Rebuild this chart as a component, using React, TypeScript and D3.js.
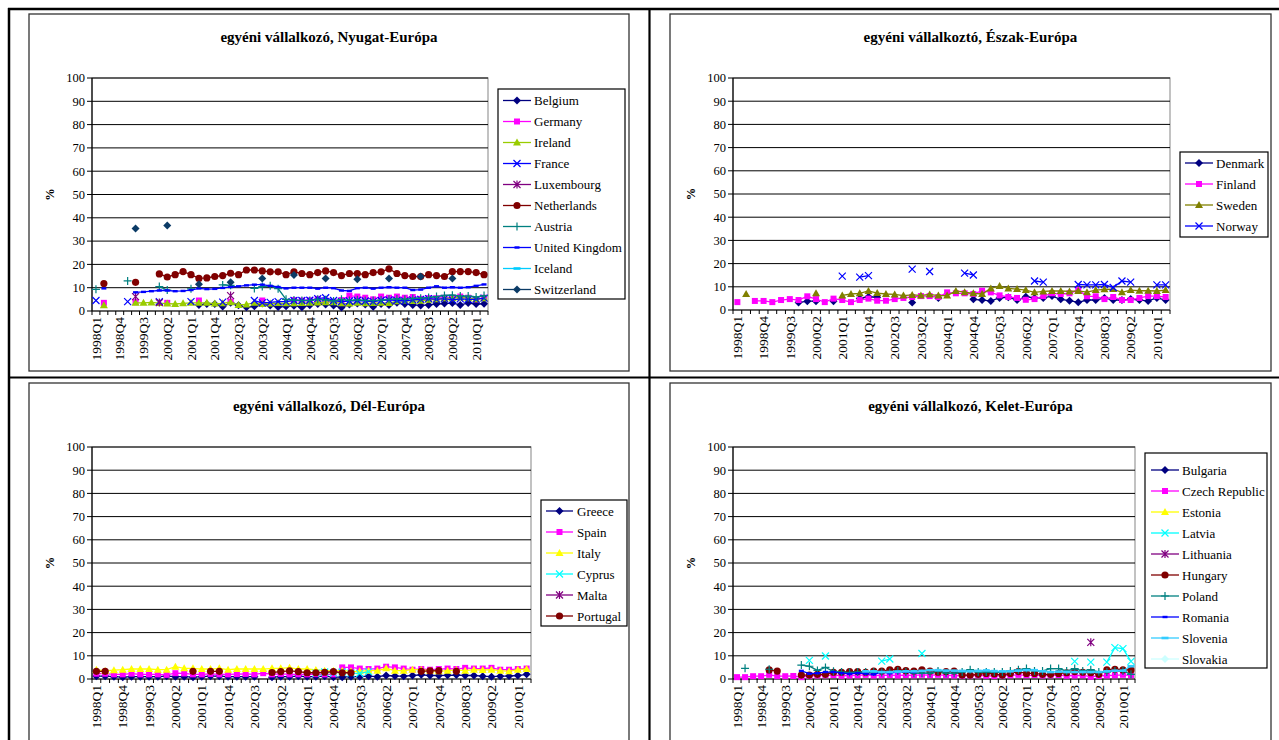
import React from "react";
import * as d3 from "d3";

const _ = null;

const quarters = [
  "1998Q1","1998Q2","1998Q3","1998Q4","1999Q1","1999Q2","1999Q3","1999Q4",
  "2000Q1","2000Q2","2000Q3","2000Q4","2001Q1","2001Q2","2001Q3","2001Q4",
  "2002Q1","2002Q2","2002Q3","2002Q4","2003Q1","2003Q2","2003Q3","2003Q4",
  "2004Q1","2004Q2","2004Q3","2004Q4","2005Q1","2005Q2","2005Q3","2005Q4",
  "2006Q1","2006Q2","2006Q3","2006Q4","2007Q1","2007Q2","2007Q3","2007Q4",
  "2008Q1","2008Q2","2008Q3","2008Q4","2009Q1","2009Q2","2009Q3","2009Q4",
  "2010Q1","2010Q2"
];
const yTicks = [0, 10, 20, 30, 40, 50, 60, 70, 80, 90, 100];
const labelEvery = 3;

// ---------- Nyugat-Európa ----------
const belgium = [_,_,_,_,_,_,_,_,_,_, _,_,_,2.6,3.0,3.0,1.9,3.5,2.5,1.6, 2.0,3.2,2.4,1.7,2.0,2.3,1.6,2.5,3.0,2.8, 2.4,1.5,2.8,3.2,2.8,1.8,3.0,2.6,3.5,3.0, 2.6,2.4,2.6,3.0,3.2,3.4,2.6,3.4,3.0,3.1];
const germany = [_,3.5,_,_,_,3.8,_,_,_,3.5, _,_,_,4.5,_,_,_,4.0,_,_, _,4.5,_,_,_,4.7,4.5,4.6,5.2,4.5, 4.0,4.7,6.6,6.2,5.7,5.0,6.2,5.7,6.2,5.7, 6.0,5.2,5.5,5.5,5.7,5.7,6.2,5.7,5.0,5.7];
const ireland = [_,2.5,_,_,_,3.5,3.5,3.7,3.4,3.2, 3.0,3.3,3.5,3.5,3.5,3.2,3.3,3.8,2.6,2.8, 3.5,3.0,3.2,3.4,3.3,3.3,3.4,3.5,3.6,3.8, 3.8,3.3,3.2,3.5,3.3,3.4,3.5,3.4,4.2,4.5, 4.3,4.4,4.8,5.0,5.5,5.5,5.8,5.5,5.0,5.5];
const france = [4.5,_,_,_,4.0,_,_,_,4.0,_, _,_,4.0,_,_,_,3.8,_,_,_, 4.5,3.5,3.7,4.0,4.0,4.5,4.5,4.6,5.3,5.7, 4.5,4.0,4.3,4.5,4.3,4.0,4.5,4.8,4.5,4.3, 4.8,5.0,5.3,5.0,5.3,4.8,5.2,5.0,5.0,5.5];
const luxembourg = [_,_,_,_,_,6.2,_,_,3.6,_, _,_,_,_,_,_,_,6.6,_,_, _,_,_,_,_,_,_,_,_,_, _,_,_,_,_,_,_,_,_,_, _,_,_,_,_,_,_,_,_,_];
const netherlands = [_,11.8,_,_,_,12.3,_,_,15.9,14.6, 15.6,16.9,15.6,14.0,14.2,14.8,15.2,16.2,15.6,17.6, 17.6,17.2,16.8,16.8,15.6,16.8,16.1,15.6,16.5,17.2, 16.5,15.2,16.1,16.1,15.6,16.5,16.8,18.1,16.1,15.2, 14.8,14.8,15.6,15.2,14.8,16.9,16.9,16.9,16.5,15.6];
const austria = [9.3,_,_,_,12.9,_,_,_,10.5,9.0, _,_,9.5,_,_,_,11.2,11.0,_,_, 9.7,10.5,10.8,9.6,5.0,4.7,4.5,4.5,5.0,4.8, 4.3,5.0,4.5,4.8,4.5,4.5,4.7,5.0,5.2,5.0, 5.4,5.5,5.8,6.2,6.7,6.8,6.4,6.4,6.0,6.6];
const unitedKingdom = [_,9.7,_,_,_,8.0,8.2,8.5,8.8,8.8, 8.5,8.6,9.0,9.7,9.4,9.5,9.9,10.3,10.6,11.0, 11.3,11.3,10.8,10.3,9.7,10.0,10.0,10.0,9.6,10.0, 9.8,8.8,8.6,9.8,10.0,9.6,10.0,10.2,10.0,10.0, 9.0,9.2,10.0,10.6,10.0,10.2,10.0,10.2,10.8,11.4];
const iceland = [_,_,_,_,_,_,_,_,_,_, _,_,_,_,_,_,_,_,_,_, _,_,_,_,_,_,_,_,_,_, _,_,_,_,_,_,_,_,_,_, _,_,_,_,_,_,_,_,_,_];
const switzerland = [_,_,_,_,_,35.4,_,_,_,36.7, _,_,_,11.5,_,_,_,12.3,_,_, _,14.0,_,_,_,15.5,_,_,_,14.0, _,_,_,13.6,_,_,_,14.0,_,_, _,14.8,_,_,_,14.0,_,_,_,_];

// ---------- Észak-Európa ----------
const denmark = [_,_,_,_,_,_,_,3.2,3.8,3.8, _,3.8,_,_,5.0,5.7,5.5,_,_,_, 3.2,_,_,5.2,_,_,_,4.6,4.3,3.9, 5.2,5.5,4.3,5.7,5.2,5.2,6.0,4.6,4.0,3.3, 4.3,4.3,5.2,4.3,4.3,4.7,4.3,3.9,5.2,4.3];
const finland = [3.4,_,3.9,3.9,3.4,4.3,4.7,4.3,5.9,4.7, 3.4,4.9,4.3,3.4,4.3,4.9,4.0,4.0,4.7,5.2, 5.6,6.0,6.0,5.6,7.6,7.2,7.2,6.9,8.3,7.6, 6.3,5.6,5.2,4.4,4.7,6.0,7.2,6.9,7.2,8.6, 5.9,5.9,4.7,5.6,4.3,4.3,5.2,6.0,6.0,5.6];
const sweden = [_,6.9,_,_,_,_,_,_,_,7.2, _,_,6.3,6.9,7.2,8.2,7.3,6.9,6.7,6.2, 6.5,6.3,6.7,6.2,6.2,8.2,7.7,7.2,6.9,9.3, 10.3,9.3,9.0,8.6,7.6,8.0,8.2,8.2,8.0,8.2, 7.7,8.6,8.9,9.0,7.6,8.6,8.3,8.3,8.2,8.6];
const norway = [_,_,_,_,_,_,_,_,_,_, _,_,14.6,_,14.2,14.8,_,_,_,_, 17.6,_,16.6,_,_,_,15.9,15.1,_,_, _,_,_,_,12.5,12.0,_,_,_,11.0, 10.8,10.8,11.0,9.7,12.5,12.0,_,_,10.8,10.8];

// ---------- Dél-Európa ----------
const greece = [1.2,1.2,1.0,0.8,1.0,1.0,1.0,1.0,1.2,1.0, 1.0,0.8,1.0,1.2,1.2,1.0,1.0,1.0,1.0,_, 0.8,1.0,1.0,1.2,1.0,1.0,1.2,0.8,0.8,1.0, 1.0,1.2,1.0,1.5,1.3,1.2,1.5,1.8,1.5,1.5, 1.6,1.7,1.5,1.5,1.2,1.0,1.2,1.3,1.5,2.0];
const spain = [2.3,2.3,2.0,2.0,2.3,2.0,2.0,2.0,1.8,2.5, 2.4,2.0,2.0,2.2,2.0,2.0,2.1,2.2,2.0,2.5, 2.0,2.2,2.0,2.0,2.0,2.1,2.0,2.0,5.0,5.0, 4.5,4.3,4.5,5.3,5.0,4.5,4.0,4.3,4.0,4.3, 4.5,4.3,4.8,4.5,4.5,4.8,4.0,4.0,4.3,4.5];
const italy = [4.0,3.5,3.8,4.0,4.3,4.3,4.3,4.0,4.0,5.3, 4.6,4.6,4.3,4.3,4.6,4.0,4.3,4.3,4.3,4.3, 4.6,4.6,4.9,4.3,4.3,3.9,3.6,3.6,3.6,3.3, 3.3,3.6,3.6,4.6,3.6,3.6,4.0,4.0,3.6,3.3, 3.6,3.9,3.6,4.0,3.9,4.0,3.6,3.3,4.0,4.3];
const cyprus = [_,_,_,_,_,_,_,_,_,_, _,_,_,_,_,_,_,_,_,_, _,_,_,_,_,2.5,3.0,2.5,3.0,2.5, 2.4,3.2,_,_,_,_,_,_,_,_, _,_,_,_,_,_,_,_,_,_];
const malta = [_,_,_,_,_,_,_,_,_,_, _,_,_,_,_,_,_,_,_,_, _,_,_,_,_,_,_,_,_,_, _,_,_,_,_,_,_,_,_,_, _,_,_,_,_,_,_,_,_,_];
const portugal = [3.3,3.3,_,_,_,_,_,_,_,_, _,3.3,_,3.3,3.3,_,_,_,_,_, 2.8,3.2,3.5,3.2,2.7,2.7,2.9,3.2,2.7,2.7, _,_,_,_,_,_,_,3.3,3.5,3.6, _,3.3,_,_,_,_,_,_,_,_];

// ---------- Kelet-Európa ----------
const bulgaria = [_,_,_,_,_,_,_,_,_,_, _,_,_,_,_,_,_,_,_,_, _,_,_,_,_,_,_,_,_,_, _,_,_,_,_,_,_,_,_,_, _,_,_,_,_,_,_,_,_,_];
const czechRepublic = [0.8,0.8,1.2,1.2,1.8,1.2,1.2,1.3,0.8,1.4, 1.5,1.6,1.7,1.4,1.5,1.6,1.8,1.5,1.6,1.7, 1.5,1.7,1.6,1.8,1.7,1.8,1.6,1.5,1.4,1.5, 1.6,1.4,1.3,1.5,1.6,1.8,1.6,1.7,1.5,1.6, 1.7,1.4,1.5,1.6,1.0,1.3,1.5,1.6,1.8,1.6];
const estonia = [_,_,_,_,_,_,_,_,_,_, _,_,_,_,_,_,_,_,_,_, _,_,_,_,_,_,_,_,_,_, _,_,_,_,_,_,_,_,_,_, _,_,_,_,_,_,_,_,_,_];
const latvia = [_,_,_,_,_,_,_,_,_,8.0, _,9.9,_,_,_,_,_,_,7.7,8.6, _,_,_,11.0,_,_,_,_,_,_, _,_,_,_,_,_,_,_,_,_, _,_,7.6,_,7.3,_,7.3,13.5,13.1,7.6];
const lithuania = [_,_,_,_,_,_,_,_,_,_, _,_,_,_,_,_,_,_,_,_, _,_,_,_,_,_,_,_,_,_, _,_,_,_,_,_,_,_,_,_, _,_,_,_,15.8,_,_,_,_,_];
const hungary = [_,_,_,_,3.9,3.4,_,_,1.7,1.7, 2.0,2.0,2.9,2.9,3.2,3.2,2.9,3.4,3.4,3.9, 4.2,3.6,3.4,3.9,3.4,2.9,3.2,3.4,1.7,1.7, 2.0,2.4,2.2,1.7,2.4,3.2,2.4,2.4,2.0,2.0, 2.4,2.7,3.2,2.9,2.7,2.0,3.9,4.2,3.9,3.9];
const poland = [_,4.6,_,_,4.2,_,_,_,6.0,5.5, 3.7,5.0,3.3,3.0,2.8,3.0,3.0,3.0,2.8,2.8, 3.5,3.0,2.5,2.5,2.5,3.5,2.5,2.5,3.0,4.0, 3.0,3.0,3.0,3.0,3.5,4.0,4.5,3.5,3.5,4.5, 4.5,3.5,4.5,3.5,4.0,3.0,3.0,3.5,3.5,2.0];
const romania = [_,_,_,_,_,_,_,_,3.5,2.3, 2.5,3.0,3.0,2.5,2.2,2.5,2.3,2.0,3.0,2.5, 3.0,3.2,3.0,_,_,_,_,_,_,_, _,_,_,_,_,_,_,_,_,_, _,_,_,_,_,_,_,_,_,_];
const slovenia = [_,_,_,_,_,_,_,_,_,_, _,_,_,_,_,_,3.3,3.3,3.0,3.0, 3.2,3.3,3.3,3.5,3.8,3.8,3.6,3.6,3.5,3.3, 3.5,3.7,3.4,3.3,3.3,3.6,3.8,3.8,3.3,3.0, 3.2,3.0,3.0,3.0,3.0,3.0,3.3,3.6,3.6,5.5];
const slovakia = [_,_,_,_,_,_,_,_,_,_, _,_,_,_,_,_,_,_,_,_, _,_,_,_,_,_,_,_,_,_, _,_,_,_,_,_,_,_,_,_, _,_,_,_,_,_,_,_,_,_];

type MarkerType = "diamond" | "square" | "triangle" | "x" | "asterisk" | "circle" | "plus" | "dash" | "dash2";
interface Series { name: string; color: string; marker: MarkerType; values: (number | null)[]; }
interface Box { x: number; y: number; w: number; h: number; }
interface PanelDef {
  title: string;
  frame: Box;
  plot: Box;
  legend: Box & { first: number; step: number; l1: number; l2: number; tx: number };
  series: Series[];
}

const panels: PanelDef[] = [
  {
    title: "egyéni vállalkozó, Nyugat-Európa",
    frame: { x: 29, y: 14, w: 600, h: 357 },
    plot: { x: 92, y: 78, w: 396, h: 233 },
    legend: { x: 498, y: 89, w: 127, h: 210, first: 100.5, step: 21, l1: 503, l2: 531, tx: 534 },
    series: [
      { name: "Belgium", color: "#000080", marker: "diamond", values: belgium },
      { name: "Germany", color: "#FF00FF", marker: "square", values: germany },
      { name: "Ireland", color: "#99CC00", marker: "triangle", values: ireland },
      { name: "France", color: "#0000FF", marker: "x", values: france },
      { name: "Luxembourg", color: "#800080", marker: "asterisk", values: luxembourg },
      { name: "Netherlands", color: "#800000", marker: "circle", values: netherlands },
      { name: "Austria", color: "#008080", marker: "plus", values: austria },
      { name: "United Kingdom", color: "#0000FF", marker: "dash", values: unitedKingdom },
      { name: "Iceland", color: "#00CCFF", marker: "dash2", values: iceland },
      { name: "Switzerland", color: "#0B3B66", marker: "diamond", values: switzerland },
    ],
  },
  {
    title: "egyéni vállalkoztó, Észak-Európa",
    frame: { x: 670, y: 14, w: 601, h: 357 },
    plot: { x: 733, y: 78, w: 437, h: 232 },
    legend: { x: 1180, y: 152, w: 88, h: 85, first: 163, step: 21, l1: 1185, l2: 1213, tx: 1216 },
    series: [
      { name: "Denmark", color: "#000080", marker: "diamond", values: denmark },
      { name: "Finland", color: "#FF00FF", marker: "square", values: finland },
      { name: "Sweden", color: "#808000", marker: "triangle", values: sweden },
      { name: "Norway", color: "#0000FF", marker: "x", values: norway },
    ],
  },
  {
    title: "egyéni vállalkozó, Dél-Európa",
    frame: { x: 29, y: 383, w: 600, h: 400 },
    plot: { x: 92, y: 447, w: 439, h: 232 },
    legend: { x: 541, y: 500, w: 86, h: 126, first: 511, step: 21, l1: 546, l2: 573, tx: 577 },
    series: [
      { name: "Greece", color: "#000080", marker: "diamond", values: greece },
      { name: "Spain", color: "#FF00FF", marker: "square", values: spain },
      { name: "Italy", color: "#FFFF00", marker: "triangle", values: italy },
      { name: "Cyprus", color: "#00FFFF", marker: "x", values: cyprus },
      { name: "Malta", color: "#800080", marker: "asterisk", values: malta },
      { name: "Portugal", color: "#800000", marker: "circle", values: portugal },
    ],
  },
  {
    title: "egyéni vállalkozó, Kelet-Európa",
    frame: { x: 670, y: 383, w: 601, h: 400 },
    plot: { x: 733, y: 447, w: 402, h: 232 },
    legend: { x: 1145, y: 453, w: 122, h: 215, first: 470, step: 21, l1: 1151, l2: 1179, tx: 1182 },
    series: [
      { name: "Bulgaria", color: "#000080", marker: "diamond", values: bulgaria },
      { name: "Czech Republic", color: "#FF00FF", marker: "square", values: czechRepublic },
      { name: "Estonia", color: "#FFFF00", marker: "triangle", values: estonia },
      { name: "Latvia", color: "#00FFFF", marker: "x", values: latvia },
      { name: "Lithuania", color: "#800080", marker: "asterisk", values: lithuania },
      { name: "Hungary", color: "#800000", marker: "circle", values: hungary },
      { name: "Poland", color: "#008080", marker: "plus", values: poland },
      { name: "Romania", color: "#0000FF", marker: "dash", values: romania },
      { name: "Slovenia", color: "#33CCFF", marker: "dash2", values: slovenia },
      { name: "Slovakia", color: "#CCFFFF", marker: "diamond", values: slovakia },
    ],
  },
];

const FONT = "\"Liberation Serif\", \"Times New Roman\", Times, \"DejaVu Serif\", serif";
const txt = (size: number, bold = false): React.CSSProperties => ({
  fontFamily: FONT,
  fontSize: size + "px",
  fontWeight: bold ? 700 : 400,
});

function Marker({ type, x, y, color }: { type: MarkerType; x: number; y: number; color: string }) {
  switch (type) {
    case "diamond":
      return <path d={`M${x},${y - 4}L${x + 4},${y}L${x},${y + 4}L${x - 4},${y}Z`} fill={color} />;
    case "square":
      return <rect x={x - 3} y={y - 3} width={6} height={6} fill={color} />;
    case "triangle":
      return <path d={`M${x},${y - 4}L${x + 4},${y + 3}L${x - 4},${y + 3}Z`} fill={color} />;
    case "x":
      return (
        <path d={`M${x - 3.5},${y - 3.5}L${x + 3.5},${y + 3.5}M${x - 3.5},${y + 3.5}L${x + 3.5},${y - 3.5}`} stroke={color} strokeWidth={1.2} fill="none" />
      );
    case "asterisk":
      return (
        <path d={`M${x - 3.5},${y - 3.5}L${x + 3.5},${y + 3.5}M${x - 3.5},${y + 3.5}L${x + 3.5},${y - 3.5}M${x},${y - 4}L${x},${y + 4}`} stroke={color} strokeWidth={1.2} fill="none" />
      );
    case "circle":
      return <circle cx={x} cy={y} r={3.6} fill={color} />;
    case "plus":
      return <path d={`M${x - 4},${y}L${x + 4},${y}M${x},${y - 4}L${x},${y + 4}`} stroke={color} strokeWidth={1.2} fill="none" />;
    case "dash":
      return <rect x={x - 2.5} y={y - 1.2} width={5} height={2.4} fill={color} />;
    case "dash2":
      return <rect x={x - 3.5} y={y - 1.3} width={7} height={2.6} fill={color} />;
  }
  return null;
}

function Panel({ p }: { p: PanelDef }) {
  const idx = d3.range(quarters.length);
  const x = d3.scaleBand<number>().domain(idx).range([p.plot.x, p.plot.x + p.plot.w]).padding(0);
  const y = d3.scaleLinear().domain([0, 100]).range([p.plot.y + p.plot.h, p.plot.y]);
  const cx = (i: number) => (x(i) as number) + x.bandwidth() / 2;
  const line = d3
    .line<number | null>()
    .defined((v) => v != null)
    .x((_v, i) => cx(i))
    .y((v) => y(v as number));
  const y0 = y(0);
  const bounds = idx.concat([quarters.length]).map((i) => p.plot.x + i * x.bandwidth());
  const fcx = p.frame.x + p.frame.w / 2;

  return (
    <g>
      <rect x={p.frame.x} y={p.frame.y} width={p.frame.w} height={p.frame.h} fill="white" stroke="#333" strokeWidth={1.3} />
      <text x={fcx} y={p.frame.y + 23} dy="0.35em" textAnchor="middle" style={txt(15, true)}>{p.title}</text>
      <rect x={p.plot.x} y={p.plot.y} width={p.plot.w} height={p.plot.h} fill="white" stroke="#9a9a9a" strokeWidth={1.2} />
      {yTicks.filter((t) => t > 0).map((t) => (
        <line key={"g" + t} x1={p.plot.x} x2={p.plot.x + p.plot.w} y1={y(t)} y2={y(t)} stroke="#000" strokeWidth={1} />
      ))}
      <line x1={p.plot.x} x2={p.plot.x} y1={p.plot.y} y2={y0} stroke="#000" strokeWidth={1.2} />
      {yTicks.map((t) => (
        <g key={"y" + t}>
          <line x1={p.plot.x - 5} x2={p.plot.x} y1={y(t)} y2={y(t)} stroke="#000" />
          <text x={p.plot.x - 7} y={y(t)} dy="0.35em" textAnchor="end" style={txt(12.5)}>{t}</text>
        </g>
      ))}
      <text transform={`translate(${p.plot.x - 42},${p.plot.y + p.plot.h / 2}) rotate(-90)`} textAnchor="middle" dy="0.35em" style={txt(12.5, true)}>%</text>
      <line x1={p.plot.x} x2={p.plot.x + p.plot.w} y1={y0} y2={y0} stroke="#000" strokeWidth={1.2} />
      {bounds.map((bx, i) => (
        <line key={"xt" + i} x1={bx} x2={bx} y1={y0} y2={y0 + 4} stroke="#000" />
      ))}
      {idx.filter((i) => i % labelEvery === 0).map((i) => (
        <text key={"xl" + i} transform={`translate(${cx(i)},${y0 + 6}) rotate(-90)`} textAnchor="end" dy="0.35em" style={txt(13.5)}>{quarters[i]}</text>
      ))}
      {p.series.map((s) => (
        <g key={s.name}>
          <path d={line(s.values) || ""} fill="none" stroke={s.color} strokeWidth={1.3} />
          {s.values.map((v, i) => (v == null ? null : <Marker key={i} type={s.marker} x={cx(i)} y={y(v)} color={s.color} />))}
        </g>
      ))}
      <rect x={p.legend.x} y={p.legend.y} width={p.legend.w} height={p.legend.h} fill="white" stroke="#000" strokeWidth={1.2} />
      {p.series.map((s, k) => {
        const ly = p.legend.first + k * p.legend.step;
        return (
          <g key={"lg" + s.name}>
            <line x1={p.legend.l1} x2={p.legend.l2} y1={ly} y2={ly} stroke={s.color} strokeWidth={1.3} />
            <Marker type={s.marker} x={(p.legend.l1 + p.legend.l2) / 2} y={ly} color={s.color} />
            <text x={p.legend.tx} y={ly} dy="0.35em" style={txt(13)}>{s.name}</text>
          </g>
        );
      })}
    </g>
  );
}

export default function App() {
  return (
    <svg width={1279} height={740} style={{ position: "absolute", left: 0, top: 0, background: "white" }}>
      <rect x={0} y={0} width={1279} height={740} fill="white" />
      {panels.map((p, i) => (
        <Panel key={i} p={p} />
      ))}
      <line x1={9} x2={9} y1={8} y2={740} stroke="#000" strokeWidth={2.5} />
      <line x1={8} x2={1279} y1={9} y2={9} stroke="#000" strokeWidth={2.5} />
      <line x1={649.5} x2={649.5} y1={8} y2={740} stroke="#000" strokeWidth={2.2} />
      <line x1={8} x2={1279} y1={377.5} y2={377.5} stroke="#000" strokeWidth={2.2} />
    </svg>
  );
}
